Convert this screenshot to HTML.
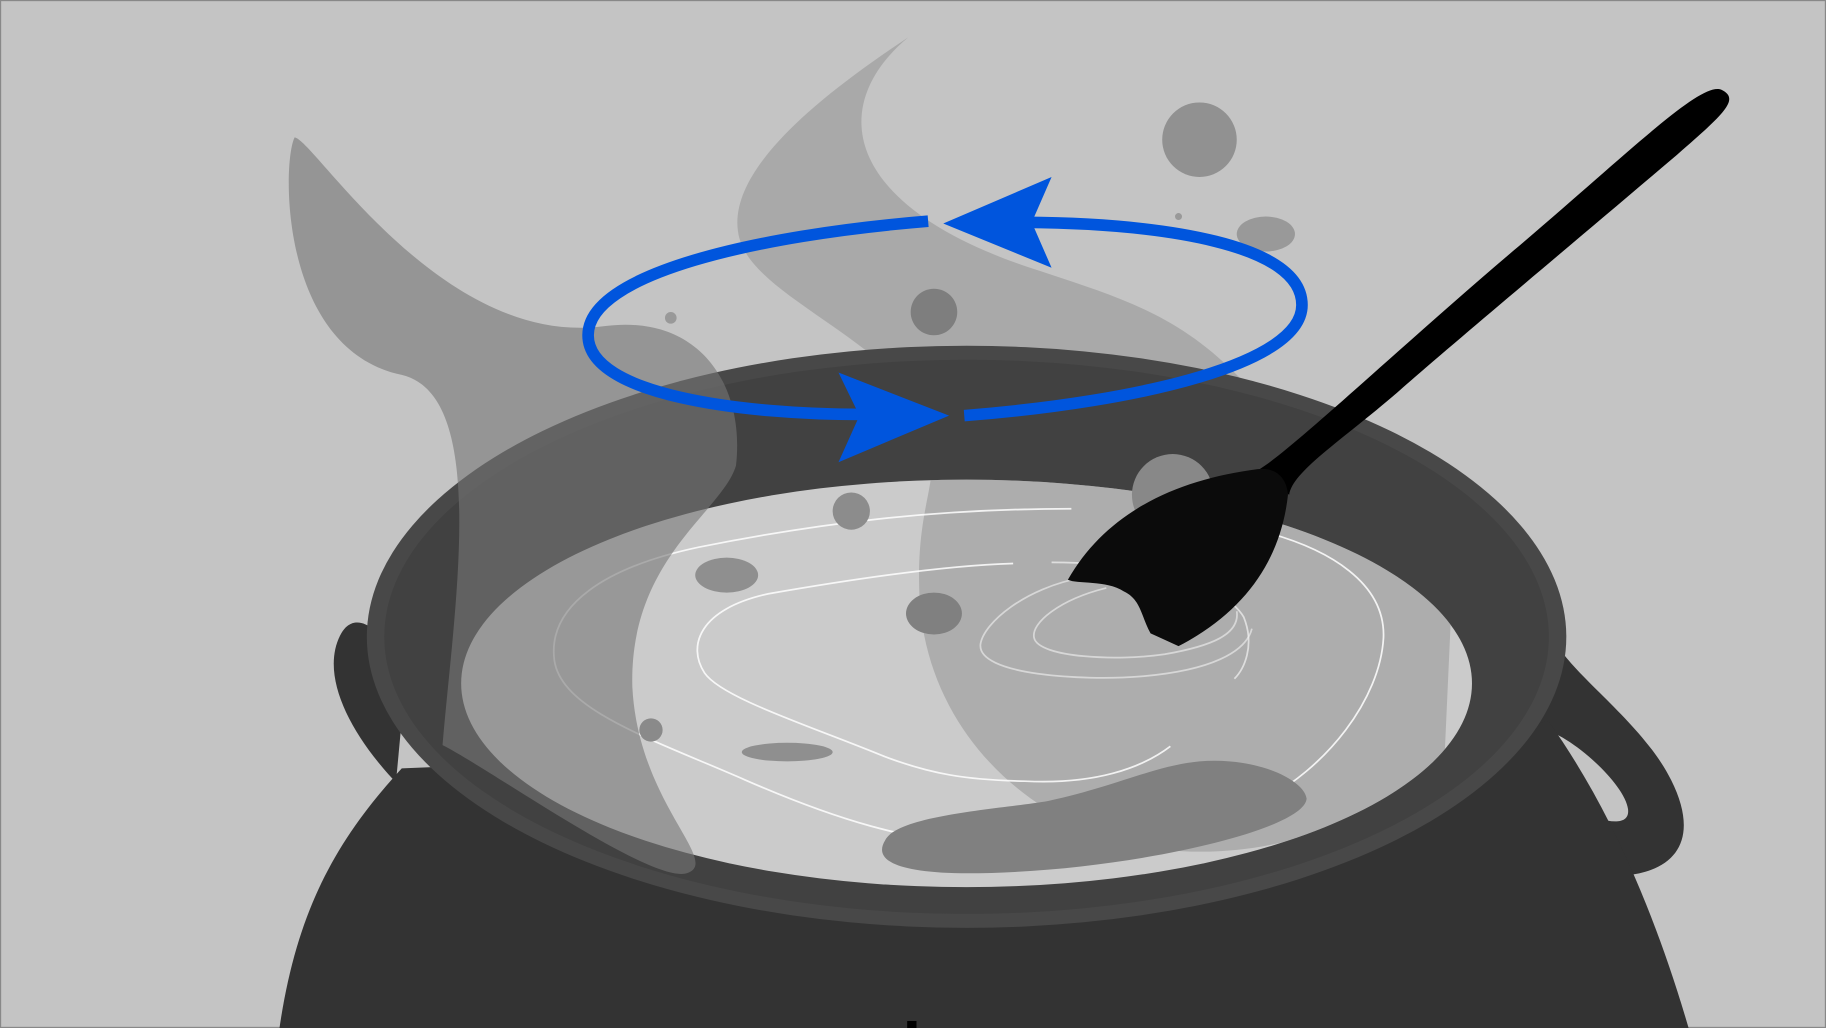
<!DOCTYPE html>
<html><head><meta charset="utf-8"><style>
html,body{margin:0;padding:0;background:#c4c4c4;}
svg{display:block;}
</style></head><body>
<svg width="1826" height="1028" viewBox="0 0 1568 883" preserveAspectRatio="none" xmlns="http://www.w3.org/2000/svg">
<defs>
<clipPath id="surf"><ellipse cx="830" cy="587" rx="434" ry="175"/></clipPath>
<path id="plumeMid" d="M780,32 C700,85 620,150 635,205 C650,260 790,300 800,380 C805,420 785,440 790,520 C800,640 900,720 1000,730 C1100,740 1180,700 1240,660 L1250,440 C1150,400 1090,350 1060,320 C1010,270 960,255 900,235 C720,180 710,90 780,32 Z"/>
</defs>
<rect x="0.5" y="0.5" width="1567" height="882" fill="#c4c4c4" stroke="#888" stroke-width="1"/>
<g fill="#969696" opacity="0.57"><use href="#plumeMid"/></g>
<path d="M340,672 C300,630 275,580 292,546 C300,530 312,534 320,540 L350,565 Z" fill="#333"/>
<path fill-rule="evenodd" fill="#333" d="M1335,550 C1350,580 1410,620 1435,670 C1460,720 1440,748 1395,752 L1300,720 L1310,630 Z M1320,628 C1335,620 1395,670 1398,695 C1400,712 1375,705 1358,698 L1310,640 Z"/>
<path d="M240,883 C255,780 290,720 345,660 L1330,620 C1380,690 1420,780 1450,883 Z" fill="#333"/>
<ellipse cx="830" cy="547" rx="515" ry="250" fill="#484848"/>
<ellipse cx="830" cy="547" rx="500" ry="238" fill="#414141"/>
<ellipse cx="830" cy="587" rx="434" ry="175" fill="#cbcbcb"/>
<g fill="#969696" opacity="0.57" clip-path="url(#surf)"><use href="#plumeMid"/></g>
<g fill="none" stroke="#fff" stroke-width="1.5" opacity="0.85">
<path d="M920,437 C800,437 700,450 600,470 C520,487 470,520 476,567 C482,610 560,635 640,670 C720,705 780,722 840,725 C920,730 1000,730 1080,690 C1140,660 1185,600 1188,548 C1190,500 1140,472 1090,458"/>
<path d="M870,484 C800,486 700,503 660,510 C600,523 590,555 605,578 C620,600 700,625 760,650 C800,665 830,670 880,671 C940,674 980,660 1005,641"/>
<path d="M903,483 C980,483 1050,500 1068,530 C1078,555 1068,575 1060,583" opacity="0.7"/>
<path d="M930,496 C880,505 845,535 842,553 C838,580 930,585 980,581 C1040,576 1070,560 1075,540" opacity="0.6"/>
<path d="M950,505 C910,515 885,535 888,548 C892,565 960,568 1000,562 C1040,555 1065,545 1062,525" opacity="0.6"/>
</g>
<g fill="#777" opacity="0.6">
<path d="M253,118 C270,120 380,300 520,280 C600,270 640,330 632,400 C620,440 540,480 543,590 C548,690 620,740 590,750 C560,760 420,660 380,640 C390,520 420,340 345,322 C240,300 242,140 253,118 Z"/>
</g>
<g fill="#808080">
<circle cx="1030" cy="120" r="32" fill="#919191"/>
<circle cx="802" cy="268" r="20" fill="#7e7e7e"/>
<ellipse cx="1087" cy="201" rx="25" ry="15" fill="#999"/>
<circle cx="1012" cy="186" r="3" fill="#999"/>
<circle cx="576" cy="273" r="5" fill="#999"/>
<circle cx="731" cy="439" r="16" fill="#8c8c8c"/>
<ellipse cx="624" cy="494" rx="27" ry="15" fill="#8f8f8f"/>
<ellipse cx="802" cy="527" rx="24" ry="18" fill="#808080"/>
<circle cx="559" cy="627" r="10" fill="#8a8a8a"/>
<ellipse cx="676" cy="646" rx="39" ry="8" fill="#8f8f8f"/>
<circle cx="1007" cy="425" r="35" fill="#888"/>
<path d="M760,722 C770,700 860,695 900,688 C960,675 990,658 1030,654 C1080,650 1120,670 1122,686 C1120,715 950,752 820,750 C760,748 752,735 760,722 Z" fill="#808080"/>
</g>
<g>
<path d="M797,190 C650,202 505,235 505,288 C505,340 640,356 740,356" fill="none" stroke="#0055dd" stroke-width="10"/>
<polygon points="720,320 815,357 720,397 738,357" fill="#0055dd"/>
<path d="M828,357 C980,345 1118,312 1118,262 C1118,210 1000,192 880,191" fill="none" stroke="#0055dd" stroke-width="10"/>
<polygon points="903,152 810,192 903,230 886,191" fill="#0055dd"/>
</g>
<g>
<path d="M1078,405 C1100,395 1200,300 1300,215 C1400,130 1460,70 1478,77 C1495,85 1480,98 1440,133 C1340,218 1250,293 1200,337 C1150,380 1110,405 1107,425 Z" fill="#000"/>
<path d="M917,498 C950,440 1010,412 1080,403 C1095,401 1105,410 1106,425 C1100,480 1070,525 1012,555 L988,544 C980,530 980,515 965,508 C950,498 925,502 917,498 Z" fill="#0b0b0b"/>
</g>
<rect x="779" y="877" width="8" height="6" fill="#000"/>
</svg>
</body></html>
